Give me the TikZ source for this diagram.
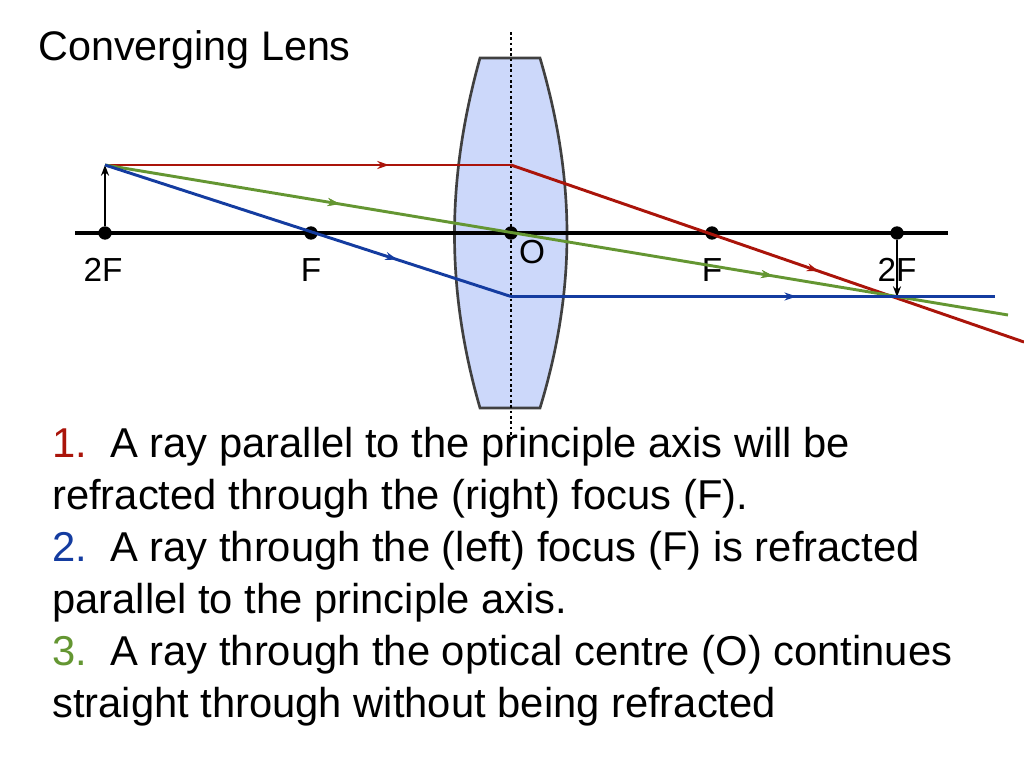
\documentclass[tikz,border=0pt]{standalone}
\usepackage{fontspec}
\setmainfont{Liberation Sans}
\usetikzlibrary{decorations.markings,arrows.meta}
\definecolor{rred}{RGB}{170,20,10}
\definecolor{rblue}{RGB}{20,60,160}
\definecolor{rgreen}{RGB}{100,150,50}
\definecolor{lensfill}{RGB}{204,216,250}
\begin{document}
\begin{tikzpicture}[x=0.75pt,y=-0.75pt,
  ray/.style={line width=2.2pt},
  arr/.style={postaction={decorate},decoration={markings,mark=at position #1 with {\arrow{Stealth[length=9pt,width=6pt]}}}},
  dot/.style={circle,fill=black,inner sep=0pt,minimum size=10pt},
  lbl/.style={font=\fontsize{25}{27}\selectfont,anchor=center},
  txt/.style={font=\fontsize{31.3}{39}\selectfont,anchor=north west,align=left,inner sep=0pt}]
\useasboundingbox (0,0) rectangle (1024,768);
\node[anchor=west,font=\fontsize{31}{34}\selectfont,inner sep=0pt] (title) at (38,50) {Converging Lens};
% lens
\fill[lensfill,draw=black!75,line width=2pt] (480,58) -- (540,58) .. controls (576,180) and (576,290) .. (540,408) -- (480,408) .. controls (446,290) and (446,180) .. (480,58) -- cycle;
\coordinate (dt) at (511,32); \coordinate (db) at (511,440);
\draw[line width=2pt,dotted] (dt) -- (db);
% axis
\coordinate (axl) at (75,233); \coordinate (axr) at (948,233);
\draw[line width=2.5pt] (axl) -- (axr);
\node[dot] (p2F) at (105,233) {};
\node[dot] (pF) at (311,233) {};
\node[dot] (pO) at (511,233) {};
\node[dot] (qF) at (712,233) {};
\node[dot] (q2F) at (897,233) {};
\node[lbl] (l1) at (103,270) {2F};
\node[lbl] (l2) at (311,270) {F};
\node[lbl] (l3) at (532,252) {O};
\node[lbl] (l4) at (712,270) {F};
\node[lbl] (l5) at (897,270) {2F};
% object and image
\coordinate (obj) at (105,165);
\coordinate (img) at (897,297);
\draw[line width=1.5pt,-{Stealth[length=8pt,width=6pt]}] (p2F) -- (obj);
\draw[line width=1.5pt,-{Stealth[length=8pt,width=6pt]}] (q2F) -- (img);
% rays
\coordinate (r1) at (511,165); \coordinate (r2) at (1024,342);
\draw[ray,rred,arr=0.7] (obj) -- (r1);
\draw[ray,rred,arr=0.6] (r1) -- (r2);
\coordinate (g2) at (1008,315);
\draw[ray,rgreen,arr=0.26,arr=0.74] (obj) -- (g2);
\coordinate (b1) at (511,296.5); \coordinate (b2) at (995,296.5);
\draw[ray,rblue,arr=0.72] (obj) -- (b1);
\draw[ray,rblue,arr=0.59] (b1) -- (b2);
% text
\node[txt] (t) at (52,427) {\textcolor{rred}{1.}\ \ A ray parallel to the principle axis will be\\
refracted through the (right) focus (F).\\
\textcolor{rblue}{2.}\ \ A ray through the (left) focus (F) is refracted\\
parallel to the principle axis.\\
\textcolor{rgreen}{3.}\ \ A ray through the optical centre (O) continues\\
straight through without being refracted};
\end{tikzpicture}
\end{document}
